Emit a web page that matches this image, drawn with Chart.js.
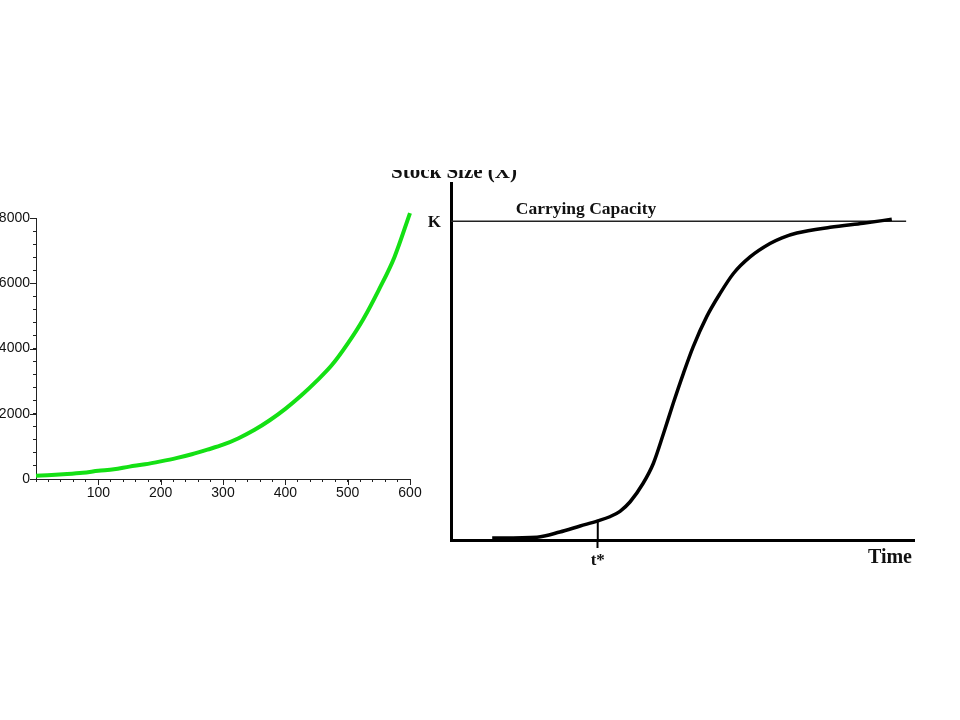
<!DOCTYPE html>
<html>
<head>
<meta charset="utf-8">
<script src="https://cdn.jsdelivr.net/npm/chart.js@4"></script>
<style>
  html, body { margin:0; padding:0; background:#fff; width:960px; height:720px; overflow:hidden; }
  .box { position:absolute; }
  #leftBox { left:0px; top:200px; width:430px; height:310px; }
  #rightBox { left:380px; top:170px; width:560px; height:410px; }
</style>
</head>
<body>
<div id="leftBox" class="box"><canvas id="left"></canvas></div>
<div id="rightBox" class="box"><canvas id="right"></canvas></div>
<script>
// ---------- Left chart: exponential growth ----------
const expX = [0,25,50,75,100,125,150,175,200,225,250,275,300,325,350,375,400,425,450,475,500,525,550,575,600];
const expY = [100,120,150,190,250,300,380,450,540,640,760,900,1050,1250,1500,1800,2150,2550,3000,3500,4150,4900,5800,6800,8150];
const leftXMajor = [100,200,300,400,500,600];
const leftYMajor = [0,2000,4000,6000,8000];

// ---------- Right chart: logistic growth ----------
const logT = [8.9,18.6,23.5,27.9,31.7,34.3,36.5,38.7,41.5,43.7,45.9,48.0,50.2,52.3,55.2,58.1,61.0,64.6,68.9,71.5,74.7,81.9,89.0,95.2];
const logX = [0.6,0.9,2.5,4.4,6.0,7.3,9.0,12.0,17.8,24.0,33.4,42.9,52.3,60.6,70.0,77.3,83.6,88.8,93.0,94.8,96.3,98.1,99.4,100.6];
const capacityK = 100;
const capacityEnd = 98.3;
const tStar = 31.7;
const tStarX = 6.0;
const rightTexts = { yTitle: 'Stock Size (X)', kLabel: 'K', capLabel: 'Carrying Capacity', tLabel: 't*', xTitle: 'Time' };

const zip = (xs, ys) => xs.map((x, i) => ({ x: x, y: ys[i] }));

// extend major ticks on the left chart
const majorTicks = {
  id: 'majorTicks',
  afterDraw(chart) {
    const ctx = chart.ctx, xs = chart.scales.x, ys = chart.scales.y;
    ctx.save();
    ctx.strokeStyle = '#222';
    ctx.lineWidth = 1;
    leftXMajor.forEach(v => {
      const px = Math.round(xs.getPixelForValue(v)) + 0.5;
      ctx.beginPath(); ctx.moveTo(px, xs.top); ctx.lineTo(px, xs.top + 6); ctx.stroke();
    });
    leftYMajor.forEach(v => {
      const py = Math.round(ys.getPixelForValue(v)) + 0.5;
      ctx.beginPath(); ctx.moveTo(ys.right - 6, py); ctx.lineTo(ys.right, py); ctx.stroke();
    });
    ctx.restore();
  }
};

new Chart(document.getElementById('left'), {
  type: 'line',
  data: {
    datasets: [{
      data: zip(expX, expY),
      borderColor: '#14e014',
      borderWidth: 4,
      pointRadius: 0,
      cubicInterpolationMode: 'monotone',
      clip: false,
      fill: false
    }]
  },
  options: {
    responsive: true,
    maintainAspectRatio: false,
    devicePixelRatio: 1,
    animation: false,
    events: [],
    layout: { padding: { top: 18, right: 20, left: 0, bottom: 0 } },
    plugins: { legend: { display: false }, tooltip: { enabled: false } },
    scales: {
      x: {
        type: 'linear', min: 0, max: 600,
        border: { display: true, color: '#222', width: 1 },
        grid: { drawOnChartArea: false, drawTicks: true, tickLength: 3, tickColor: '#222' },
        ticks: {
          stepSize: 20, autoSkip: false, maxRotation: 0, padding: 3,
          color: '#111', font: { family: 'Liberation Sans, Arial', size: 14 },
          callback: v => leftXMajor.includes(v) ? String(v) : ''
        },
        afterFit: s => { s.height = 31; }
      },
      y: {
        type: 'linear', min: 0, max: 8000,
        border: { display: true, color: '#222', width: 1 },
        grid: { drawOnChartArea: false, drawTicks: true, tickLength: 3, tickColor: '#222' },
        ticks: {
          stepSize: 400, autoSkip: false, padding: 3,
          color: '#111', font: { family: 'Liberation Sans, Arial', size: 14 },
          callback: v => leftYMajor.includes(v) ? String(v) : ''
        },
        afterFit: s => { s.width = 36; }
      }
    }
  },
  plugins: [majorTicks]
});

// text annotations on the right chart
const rightText = {
  id: 'rightText',
  afterDraw(chart) {
    const ctx = chart.ctx, xs = chart.scales.x, ys = chart.scales.y;
    const serif = '"Liberation Serif", "DejaVu Serif", serif';
    ctx.save();
    ctx.fillStyle = '#111';
    // clipped axis title at the very top
    ctx.font = 'bold 21px ' + serif;
    ctx.textAlign = 'center'; ctx.textBaseline = 'alphabetic';
    ctx.fillText(rightTexts.yTitle, xs.left + 3, 8);
    // K label
    ctx.font = 'bold 17px ' + serif;
    ctx.textAlign = 'right'; ctx.textBaseline = 'middle';
    ctx.fillText(rightTexts.kLabel, xs.left - 10, ys.getPixelForValue(capacityK) + 1);
    // carrying capacity label
    ctx.font = 'bold 17.5px ' + serif;
    ctx.textAlign = 'left'; ctx.textBaseline = 'alphabetic';
    ctx.fillText(rightTexts.capLabel, xs.getPixelForValue(14.0), ys.getPixelForValue(capacityK) - 7);
    // Time label
    ctx.font = 'bold 20px ' + serif;
    ctx.textAlign = 'right';
    ctx.fillText(rightTexts.xTitle, xs.right - 2, ys.bottom + 23);
    ctx.restore();
  }
};

new Chart(document.getElementById('right'), {
  type: 'line',
  data: {
    datasets: [
      {
        data: zip(logT, logX),
        borderColor: '#000',
        borderWidth: 3.5,
        pointRadius: 0,
        cubicInterpolationMode: 'monotone',
        clip: false,
        fill: false
      },
      {
        data: [{ x: 0, y: capacityK }, { x: capacityEnd, y: capacityK }],
        borderColor: '#222',
        borderWidth: 1.5,
        pointRadius: 0,
        clip: false,
        fill: false
      },
      {
        data: [{ x: tStar, y: 0 }, { x: tStar, y: tStarX }],
        borderColor: '#000',
        borderWidth: 2,
        pointRadius: 0,
        clip: false,
        fill: false
      }
    ]
  },
  options: {
    responsive: true,
    maintainAspectRatio: false,
    devicePixelRatio: 1,
    animation: false,
    events: [],
    layout: { padding: { top: 13, right: 26, left: 0, bottom: 0 } },
    plugins: { legend: { display: false }, tooltip: { enabled: false } },
    scales: {
      x: {
        type: 'linear', min: 0, max: 100,
        border: { display: true, color: '#000', width: 3 },
        grid: { drawOnChartArea: false, drawTicks: true, tickLength: 8, tickWidth: 2, tickColor: '#000' },
        afterBuildTicks: s => { s.ticks = [{ value: tStar }]; },
        ticks: {
          autoSkip: false, maxRotation: 0, padding: 2,
          color: '#111', font: { family: '"Liberation Serif", serif', size: 17, weight: 'bold' },
          callback: () => rightTexts.tLabel
        },
        afterFit: s => { s.height = 40; }
      },
      y: {
        type: 'linear', min: 0, max: 112,
        border: { display: true, color: '#000', width: 3 },
        grid: { drawOnChartArea: false, drawTicks: false },
        ticks: { display: false },
        afterFit: s => { s.width = 71; }
      }
    }
  },
  plugins: [rightText]
});
</script>
</body>
</html>
